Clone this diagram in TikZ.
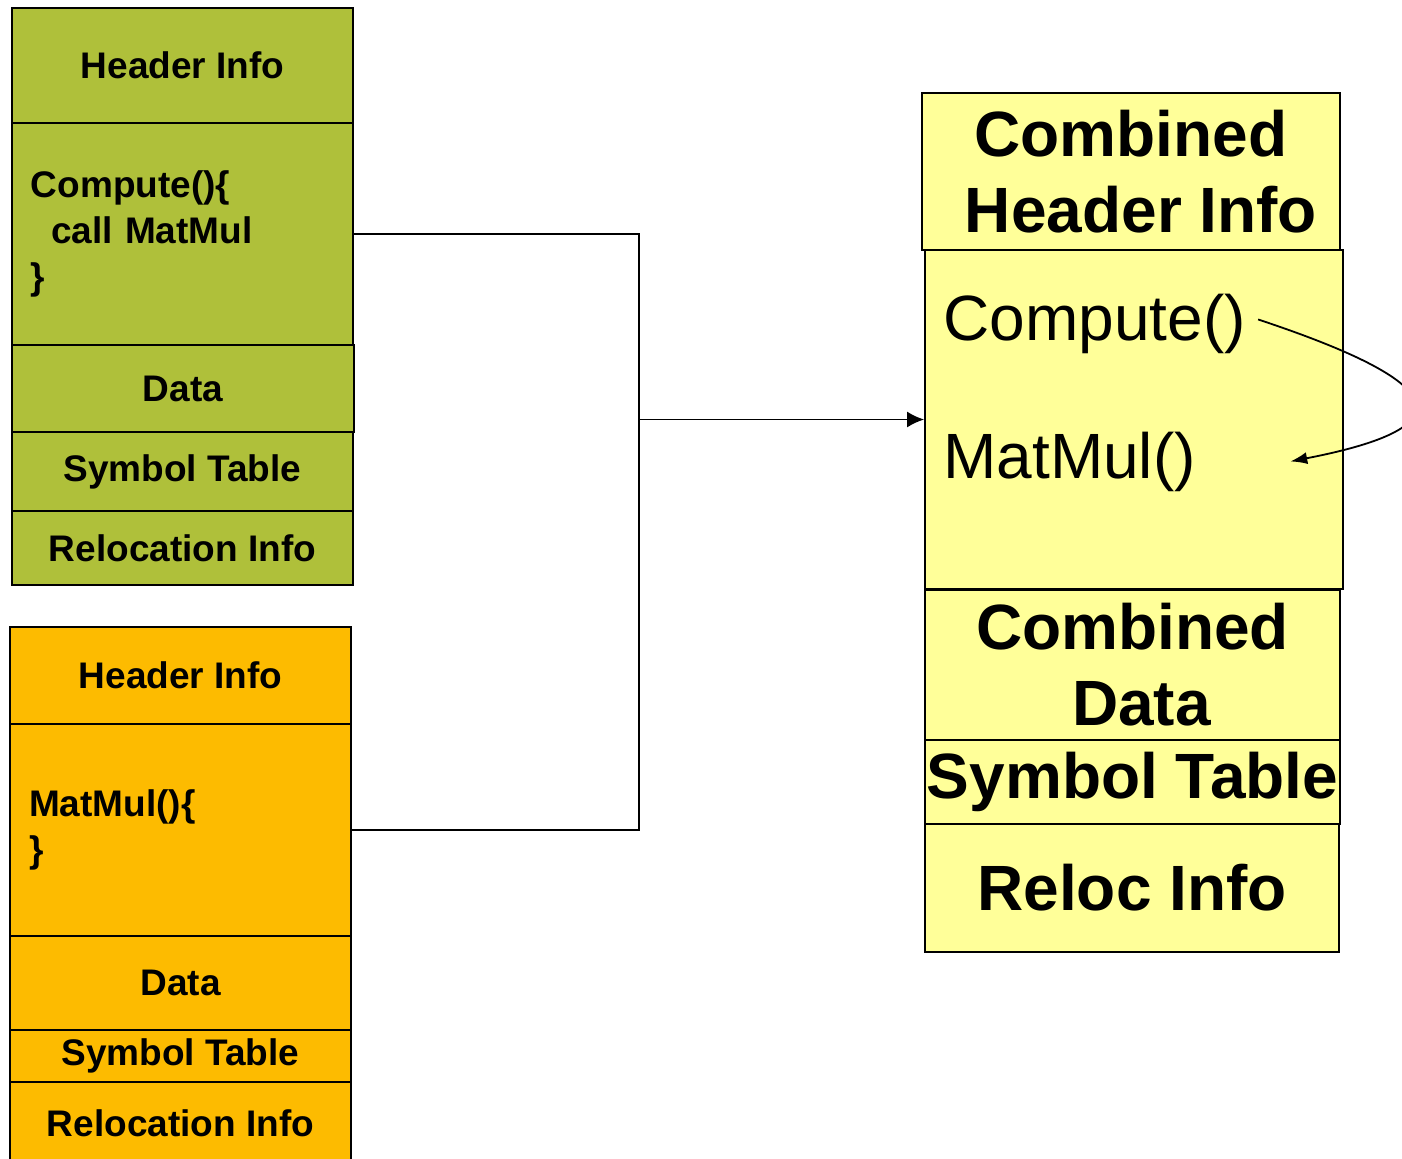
\documentclass[tikz,border=0pt]{standalone}
\usepackage{fontspec}
\setmainfont{Liberation Sans}
\usetikzlibrary{arrows.meta}
\definecolor{objgreen}{RGB}{175,192,58}
\definecolor{objorange}{RGB}{253,187,0}
\definecolor{exeyellow}{RGB}{255,255,153}
\begin{document}
\begin{tikzpicture}[x=0.5pt,y=-0.5pt,
        sect/.style={draw,rectangle,line width=0.9pt,inner sep=0pt,align=center,
            font=\fontsize{18.5}{23}\selectfont\bfseries},
        bigsect/.style={sect,font=\fontsize{32}{38}\selectfont\bfseries},
        codesect/.style={sect,align=left,inner xsep=9.5pt,text width=151.5pt},
        bigcode/.style={anchor=base west,inner sep=0pt,font=\fontsize{32}{38}\selectfont},
        link/.style={line width=0.9pt}]
        \useasboundingbox (0,0) rectangle (1402,1158);
        % Define the nodes for the Compute object file
        \node[sect,fill=objgreen,minimum width=170.5pt,minimum height=57.5pt] (ghead)  at (182.5,65.5)  {Header Info};
        \node[codesect,fill=objgreen,minimum height=111pt]                   (gcode)  at (182.5,234)   {Compute()\{\\\hspace*{10pt}call MatMul\\\}};
        \node[sect,fill=objgreen,minimum width=171pt,minimum height=43.5pt]  (gdata)  at (183,388.5)   {Data};
        \node[sect,fill=objgreen,minimum width=170.5pt,minimum height=39.5pt] (gsym)  at (182.5,471.5) {Symbol Table};
        \node[sect,fill=objgreen,minimum width=170.5pt,minimum height=37pt]  (greloc) at (182.5,548)   {Relocation Info};
        % Define the nodes for the MatMul object file
        \node[sect,fill=objorange,minimum width=170.5pt,minimum height=48.5pt] (ohead)  at (180.5,675.5) {Header Info};
        \node[codesect,fill=objorange,minimum height=106pt]                   (ocode)  at (180.5,830)   {MatMul()\{\\\}};
        \node[sect,fill=objorange,minimum width=170.5pt,minimum height=47pt]  (odata)  at (180.5,983)   {Data};
        \node[sect,fill=objorange,minimum width=170.5pt,minimum height=26pt]  (osym)   at (180.5,1056)  {Symbol Table};
        \node[sect,fill=objorange,minimum width=170.5pt,minimum height=41pt]  (oreloc) at (180.5,1123)  {Relocation Info};
        % Define the nodes for the linked file
        \node[bigsect,fill=exeyellow,minimum width=209pt,minimum height=78.5pt] (yhead)  at (1131,171.5)  {Combined\\\hspace*{10pt}Header Info};
        \node[sect,fill=exeyellow,minimum width=209pt,minimum height=169.5pt]   (ycode)  at (1134,419.5)  {};
        \node[bigsect,fill=exeyellow,minimum width=207.5pt,minimum height=75pt] (ydata)  at (1132.5,665)  {Combined\\\hspace*{9pt}Data};
        \node[bigsect,fill=exeyellow,minimum width=207.5pt,minimum height=42pt] (ysym)   at (1132.5,782)  {Symbol Table};
        \node[bigsect,fill=exeyellow,minimum width=207pt,minimum height=64pt]   (yreloc) at (1132,888)    {Reloc Info};
        \node[bigcode] (ycmp) at (943,340) {Compute()};
        \node[bigcode] (ymm)  at (943,478) {MatMul()};
        % Connect the object files to the linked file
        \coordinate (merge) at (639,419.5);
        \draw[link] (gcode.east) -| (merge);
        \draw[link] (ocode.east) -| (merge);
        \draw[link,-{Latex[length=8.5pt,width=8pt]}] (merge) -- (ycode.west);
        \draw[link,-{Latex[length=8.5pt,width=6pt]}] ([xshift=6pt,yshift=2pt]ycmp.east)
            .. controls +(202,67) and +(170,-33) .. ([xshift=47pt]ymm.east);
    \end{tikzpicture}
\end{document}
